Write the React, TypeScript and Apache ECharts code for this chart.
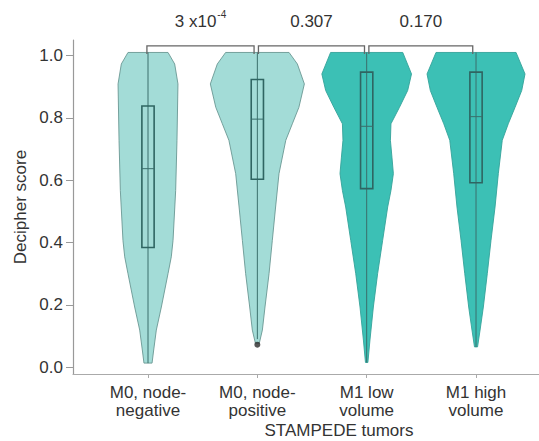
import React, { useEffect, useRef } from "react";
import * as echarts from "echarts";

const categories = ["M0, node-\nnegative", "M0, node-\npositive", "M1 low\nvolume", "M1 high\nvolume"];
const yTicks = [0, 0.2, 0.4, 0.6, 0.8, 1.0];

// violin outlines: score levels (top to bottom) and half-widths in category units
const violinLevels1 = [1.01, 0.973, 0.909, 0.728, 0.567, 0.407, 0.354, 0.3, 0.193, 0.119, 0.055, 0.013];
const violinWidths1 = [0.183, 0.244, 0.274, 0.265, 0.253, 0.229, 0.213, 0.183, 0.122, 0.076, 0.052, 0.037];
const violinLevels2 = [1.01, 0.973, 0.909, 0.834, 0.781, 0.728, 0.621, 0.514, 0.407, 0.3, 0.193, 0.119, 0.077];
const violinWidths2 = [0.29, 0.366, 0.43, 0.38, 0.32, 0.26, 0.198, 0.167, 0.137, 0.107, 0.07, 0.046, 0.018];
const violinLevels3 = [1.01, 0.941, 0.888, 0.834, 0.781, 0.728, 0.674, 0.621, 0.567, 0.514, 0.407, 0.3, 0.193, 0.087, 0.015];
const violinWidths3 = [0.33, 0.41, 0.375, 0.3, 0.222, 0.217, 0.231, 0.244, 0.222, 0.192, 0.146, 0.1, 0.061, 0.03, 0.011];
const violinLevels4 = [1.01, 0.941, 0.888, 0.834, 0.781, 0.728, 0.621, 0.514, 0.407, 0.3, 0.193, 0.119, 0.065];
const violinWidths4 = [0.366, 0.448, 0.418, 0.357, 0.295, 0.24, 0.204, 0.174, 0.137, 0.103, 0.067, 0.037, 0.014];

const violinLevels = [violinLevels1, violinLevels2, violinLevels3, violinLevels4];
const violinWidths = [violinWidths1, violinWidths2, violinWidths3, violinWidths4];

// [whisker low, q1, median, q3, whisker high]
const boxStats = [
  [0.013, 0.384, 0.637, 0.838, 1.01],
  [0.09, 0.603, 0.796, 0.923, 1.01],
  [0.015, 0.573, 0.773, 0.947, 1.01],
  [0.065, 0.592, 0.804, 0.947, 1.01],
];
const outliers = [[2, 0.072]];

const violinFills = ["#a3dcd7", "#a3dcd7", "#3cc0b5", "#3cc0b5"];
const violinStrokes = ["#6a9793", "#6a9793", "#34a39a", "#34a39a"];

// comparison brackets: [x start, x end]
const bracketStarts = [0.99, 2.01, 3.02];
const bracketEnds = [1.97, 2.98, 3.97];
const bracketLevel = 1.031;
const pValueBase = ["3 x10", "0.307", "0.170"];
const pValueExp = ["-4", "", ""];

const FONT = "'Liberation Sans', Arial, Helvetica, sans-serif";
const FS = 17;

export default function App() {
  const ref = useRef<HTMLDivElement>(null);
  useEffect(() => {
    if (!ref.current) return;
    const chart = echarts.init(ref.current, undefined, { renderer: "svg" });
    const boxHalf = 0.056;
    chart.setOption({
      animation: false,
      backgroundColor: "#ffffff",
      textStyle: { fontFamily: FONT },
      grid: { left: 73, right: 0, top: 40, bottom: 67, outerBoundsMode: "none", containLabel: false },
      xAxis: {
        type: "value",
        min: 0.314,
        max: 4.576,
        name: "STAMPEDE tumors",
        nameLocation: "middle",
        nameGap: 48,
        nameMoveOverlap: false,
        nameTextStyle: { fontSize: FS, lineHeight: 17, color: "#333", fontFamily: FONT, padding: [0, 0, 0, 66] },
        axisLine: { show: true, onZero: false, lineStyle: { color: "#aaaaaa", width: 1.2 } },
        axisTick: { show: true, length: 4, customValues: [1, 2, 3, 4], lineStyle: { color: "#aaaaaa" } },
        axisLabel: {
          customValues: [1, 2, 3, 4],
          formatter: (v: number) => categories[Math.round(v) - 1],
          fontSize: FS,
          lineHeight: 18.5,
          color: "#333",
          margin: 9,
          fontFamily: FONT,
        },
        splitLine: { show: false },
      },
      yAxis: {
        type: "value",
        min: -0.022,
        max: 1.05,
        name: "Decipher score",
        nameLocation: "middle",
        nameGap: 44,
        nameMoveOverlap: false,
        nameTextStyle: { fontSize: FS, color: "#333", fontFamily: FONT },
        axisLine: { show: true, onZero: false, lineStyle: { color: "#999999", width: 1.2 } },
        axisTick: { show: true, length: 7, customValues: yTicks, lineStyle: { color: "#999999" } },
        axisLabel: {
          customValues: yTicks,
          formatter: (v: number) => v.toFixed(1),
          fontSize: FS,
          color: "#333",
          margin: 10,
          fontFamily: FONT,
        },
        splitLine: { show: false },
      },
      series: [
        {
          type: "custom",
          data: [[1, 0.5], [2, 0.5], [3, 0.5], [4, 0.5]],
          encode: { x: 0, y: 1 },
          renderItem: (params: any, api: any) => {
            const i = params.dataIndex;
            const cx = api.value(0);
            const lv = violinLevels[i];
            const wd = violinWidths[i];
            const left = lv.map((v, k) => api.coord([cx - wd[k], v]));
            const right = lv.map((v, k) => api.coord([cx + wd[k], v])).reverse();
            const [lo, q1, med, q3, hi] = boxStats[i];
            const pTop = api.coord([cx, hi]);
            const pBot = api.coord([cx, lo]);
            const b1 = api.coord([cx - boxHalf, q3]);
            const b2 = api.coord([cx + boxHalf, q1]);
            const m1 = api.coord([cx - boxHalf, med]);
            const m2 = api.coord([cx + boxHalf, med]);
            return {
              type: "group",
              children: [
                {
                  type: "polygon",
                  shape: { points: left.concat(right) },
                  style: { fill: violinFills[i], stroke: violinStrokes[i], lineWidth: 0.9 },
                },
                {
                  type: "line",
                  shape: { x1: pTop[0], y1: pTop[1], x2: pBot[0], y2: pBot[1] },
                  style: { stroke: "#3a6f6c", lineWidth: 1 },
                },
                {
                  type: "rect",
                  shape: { x: b1[0], y: b1[1], width: b2[0] - b1[0], height: b2[1] - b1[1] },
                  style: { fill: "none", stroke: "#2f6562", lineWidth: 1.6 },
                },
                {
                  type: "line",
                  shape: { x1: m1[0], y1: m1[1], x2: m2[0], y2: m2[1] },
                  style: { stroke: "#3a6f6c", lineWidth: 1 },
                },
              ],
            };
          },
          z: 2,
        },
        {
          type: "scatter",
          data: outliers,
          symbolSize: 6,
          itemStyle: { color: "#2a2a2a" },
          z: 3,
        },
        {
          type: "custom",
          data: bracketStarts.map((s, k) => [s, bracketLevel, bracketEnds[k]]),
          encode: { x: 0, y: 1 },
          clip: false,
          renderItem: (params: any, api: any) => {
            const k = params.dataIndex;
            const a = api.coord([bracketStarts[k], bracketLevel]);
            const b = api.coord([bracketEnds[k], bracketLevel]);
            const drop = 8;
            const exp = pValueExp[k];
            const text = exp ? `{a|${pValueBase[k]}}{s|${exp}}` : `{a|${pValueBase[k]}}`;
            return {
              type: "group",
              children: [
                {
                  type: "polyline",
                  shape: { points: [[a[0], a[1] + drop], [a[0], a[1]], [b[0], b[1]], [b[0], b[1] + drop]] },
                  style: { stroke: "#666666", lineWidth: 1.3, fill: "none" },
                },
                {
                  type: "text",
                  x: (a[0] + b[0]) / 2,
                  y: a[1] - 26,
                  style: {
                    text,
                    align: "center",
                    verticalAlign: "middle",
                    fill: "#333",
                    fontFamily: FONT,
                    rich: {
                      a: { fontSize: FS, fontFamily: FONT, fill: "#333", lineHeight: 20, verticalAlign: "bottom" },
                      s: { fontSize: 10, fontFamily: FONT, fill: "#333", lineHeight: 20, verticalAlign: "top", padding: [0, 0, 10, 1] },
                    },
                  },
                },
              ],
            };
          },
          z: 4,
        },
      ],
    });
    return () => chart.dispose();
  }, []);
  return <div ref={ref} style={{ position: "fixed", left: 0, top: 0, width: 539, height: 441 }} />;
}
